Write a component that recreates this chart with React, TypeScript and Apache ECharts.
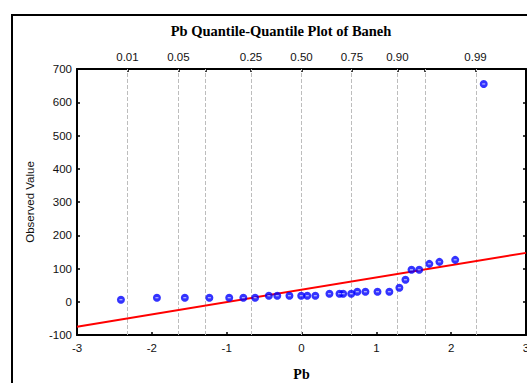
import React, { useEffect, useRef } from "react";
import * as echarts from "echarts";

// Normal scores (theoretical quantiles) and observed Pb values
const theoreticalZ = [
  -2.413, -1.932, -1.559, -1.231, -0.966, -0.777, -0.62, -0.436, -0.324, -0.161,
  -0.004, 0.077, 0.185, 0.373, 0.508, 0.557, 0.665, 0.746, 0.854, 1.016,
  1.174, 1.308, 1.389, 1.47, 1.573, 1.708, 1.843, 2.054, 2.435,
];
const observedPb = [
  6, 12, 12, 12, 12, 12, 12, 18, 18, 18,
  18, 18, 18, 24, 24, 24, 24, 30, 30, 30,
  30, 42, 66, 96, 96, 114, 120, 126, 655,
];

// Reference (fit) line end points
const fitLineX = [-3, 3];
const fitLineY = [-75, 147];

// Top probability axis
const probZ = [-2.326, -1.645, -1.2816, -0.674, 0, 0.674, 1.2816, 1.645, 2.326];
const probLabels = ["0.01", "0.05", "", "0.25", "0.50", "0.75", "0.90", "", "0.99"];

const xTicks = { min: -3, max: 3, interval: 1 };
const yTicks = { min: -100, max: 700, interval: 100 };

const titleText = "Pb Quantile-Quantile Plot of Baneh";
const xName = "Pb";
const yName = "Observed Value";

const labelFont = "'Liberation Sans', Arial, sans-serif";
const serifFont = "'Liberation Serif', 'Times New Roman', serif";

export default function App() {
  const ref = useRef<HTMLDivElement>(null);

  useEffect(() => {
    if (!ref.current) return;
    const chart = echarts.init(ref.current, undefined, { renderer: "svg" });
    const points = theoreticalZ.map((z, i) => [z, observedPb[i]]);
    const labelledZ = probZ.filter((_, i) => probLabels[i] !== "");

    const axisLine = { show: true, onZero: false, lineStyle: { color: "#000", width: 2 } };
    const axisTick = { show: true, inside: true, length: 3, lineStyle: { color: "#000", width: 1.5 } };

    chart.setOption({
      animation: false,
      backgroundColor: "#fff",
      title: {
        text: titleText,
        left: 276,
        top: 18,
        textAlign: "center",
        textStyle: { fontFamily: serifFont, fontWeight: "bold", fontSize: 14.5, color: "#000" },
      },
      graphic: [
        {
          type: "rect",
          shape: { x: 12, y: 15, width: 700, height: 500 },
          style: { fill: "none", stroke: "#000", lineWidth: 2 },
          silent: true,
        },
      ],
      grid: { left: 77, top: 69, right: 1, bottom: 48, containLabel: false, outerBoundsMode: "none" },
      xAxis: [
        {
          type: "value",
          position: "bottom",
          ...xTicks,
          axisLine,
          axisTick,
          splitLine: { show: false },
          axisLabel: { color: "#111", fontFamily: labelFont, fontSize: 11.5, margin: 7 },
          name: xName,
          nameLocation: "middle",
          nameGap: 32,
          nameTextStyle: { fontFamily: serifFont, fontWeight: "bold", fontSize: 14, color: "#000" },
        },
        {
          type: "value",
          position: "top",
          ...xTicks,
          axisLine,
          axisTick: { ...axisTick, customValues: probZ },
          splitLine: { show: false },
          axisLabel: {
            color: "#111",
            fontFamily: labelFont,
            fontSize: 11.5,
            margin: 6,
            customValues: labelledZ,
            formatter: (v: number) => {
              const i = probZ.findIndex((z) => Math.abs(z - v) < 1e-6);
              return i >= 0 ? probLabels[i] : "";
            },
          },
        },
      ],
      yAxis: [
        {
          type: "value",
          position: "left",
          ...yTicks,
          axisLine,
          axisTick,
          splitLine: { show: false },
          axisLabel: { color: "#111", fontFamily: labelFont, fontSize: 11.5, margin: 5 },
          name: yName,
          nameLocation: "middle",
          nameGap: 41,
          nameTextStyle: { fontFamily: labelFont, fontSize: 11.5, color: "#111" },
        },
        {
          type: "value",
          position: "right",
          ...yTicks,
          axisLine,
          axisTick,
          splitLine: { show: false },
          axisLabel: { show: false },
        },
      ],
      series: [
        {
          type: "line",
          xAxisIndex: 0,
          yAxisIndex: 0,
          data: fitLineX.map((x, i) => [x, fitLineY[i]]),
          showSymbol: false,
          symbol: "none",
          lineStyle: { color: "#ff0000", width: 2 },
          z: 3,
          markLine: {
            silent: true,
            symbol: ["none", "none"],
            label: { show: false },
            lineStyle: { color: "#bdbdbd", type: "dashed", width: 1 },
            data: probZ.map((z) => ({ xAxis: z })),
            z: 1,
          },
        },
        {
          type: "scatter",
          xAxisIndex: 0,
          yAxisIndex: 0,
          data: points,
          symbol: "circle",
          symbolSize: 8,
          itemStyle: { color: "#0000ff" },
          z: 4,
        },
        {
          type: "scatter",
          xAxisIndex: 0,
          yAxisIndex: 0,
          data: points,
          symbol: "rect",
          symbolSize: [3, 1],
          itemStyle: { color: "#ffffff" },
          z: 5,
        },
      ],
    });
    return () => chart.dispose();
  }, []);

  return (
    <div style={{ position: "fixed", left: 0, top: 0, width: 527, height: 383 }}>
      <div ref={ref} style={{ width: 527, height: 383 }} />
    </div>
  );
}
